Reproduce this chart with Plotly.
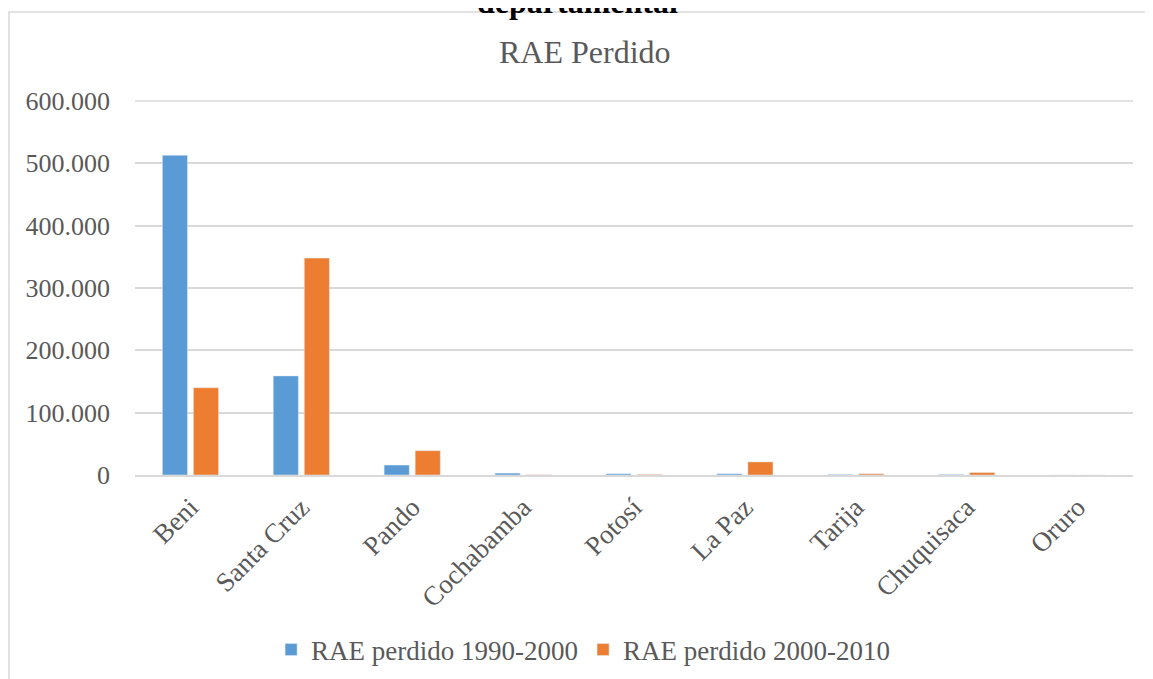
import plotly.graph_objects as go

# departamentos y superficie de RAE perdida (ha)
departamentos = ['Beni', 'Santa Cruz', 'Pando', 'Cochabamba', 'Potosí',
                 'La Paz', 'Tarija', 'Chuquisaca', 'Oruro']
rae_1990_2000 = [513000, 159000, 16000, 3000, 2000, 2000, 1000, 1000, 0]
rae_2000_2010 = [140000, 348000, 39000, 500, 1000, 21000, 2000, 4000, 0]

serie_nombres = ['RAE perdido 1990-2000', 'RAE perdido 2000-2010']
colores = ['#5B9BD5', '#ED7D31']

FUENTE = 'Liberation Serif, Times New Roman, serif'
GRIS = '#595959'

fig = go.Figure()
for nombre, valores, color in zip(serie_nombres, [rae_1990_2000, rae_2000_2010], colores):
    fig.add_trace(go.Bar(
        x=departamentos,
        y=valores,
        name=nombre,
        marker_color=color,
    ))

fig.update_layout(
    width=1153,
    height=679,
    margin=dict(l=127, r=28, t=93, b=212, autoexpand=False),
    paper_bgcolor='white',
    plot_bgcolor='white',
    separators=',.',
    barmode='group',
    bargap=0.44,
    bargroupgap=0.19,
    font=dict(family=FUENTE, color=GRIS, size=26),
    showlegend=True,
    legend=dict(
        orientation='h',
        x=0.449, xanchor='center',
        y=-0.468, yanchor='middle',
        font=dict(size=27, color=GRIS),
        itemwidth=30,
    ),
    xaxis=dict(
        tickangle=-45,
        showgrid=False,
        showline=True,
        linecolor='#d9d9d9',
        linewidth=1.5,
        ticks='',
        ticklabelstandoff=4,
        tickfont=dict(size=27, color=GRIS),
        automargin=False,
    ),
    yaxis=dict(
        range=[0, 600000],
        dtick=100000,
        tickformat=',d',
        showgrid=True,
        gridcolor='#d9d9d9',
        gridwidth=1.5,
        zeroline=False,
        showline=False,
        ticks='',
        ticklabelstandoff=24,
        tickfont=dict(size=26, color=GRIS),
        automargin=False,
    ),
)

# linea de la cuadricula en 600.000 (borde superior del area)
fig.add_shape(
    type='line', xref='paper', yref='paper',
    x0=0, x1=1, y0=1, y1=1,
    line=dict(color='#d9d9d9', width=1.5), layer='below',
)

# titulo del grafico
fig.add_annotation(
    text='RAE Perdido', xref='paper', yref='paper',
    x=0.451, y=1.131, xanchor='center', yanchor='middle',
    showarrow=False, font=dict(family=FUENTE, size=32, color=GRIS),
)

# texto cortado del documento por encima del grafico
fig.add_annotation(
    text='<b>departamental</b>', xref='paper', yref='paper',
    x=0.443, y=1.212, xanchor='center', yanchor='bottom',
    showarrow=False, font=dict(family=FUENTE, size=32, color='black'),
)

# borde del area del grafico
fig.add_shape(
    type='rect', xref='paper', yref='paper',
    x0=-0.1263, y0=-1.0, x1=1.2, y1=1.238,
    line=dict(color='#d9d9d9', width=1.5),
    fillcolor='rgba(0,0,0,0)', layer='below',
)

fig.write_html('out.html')
